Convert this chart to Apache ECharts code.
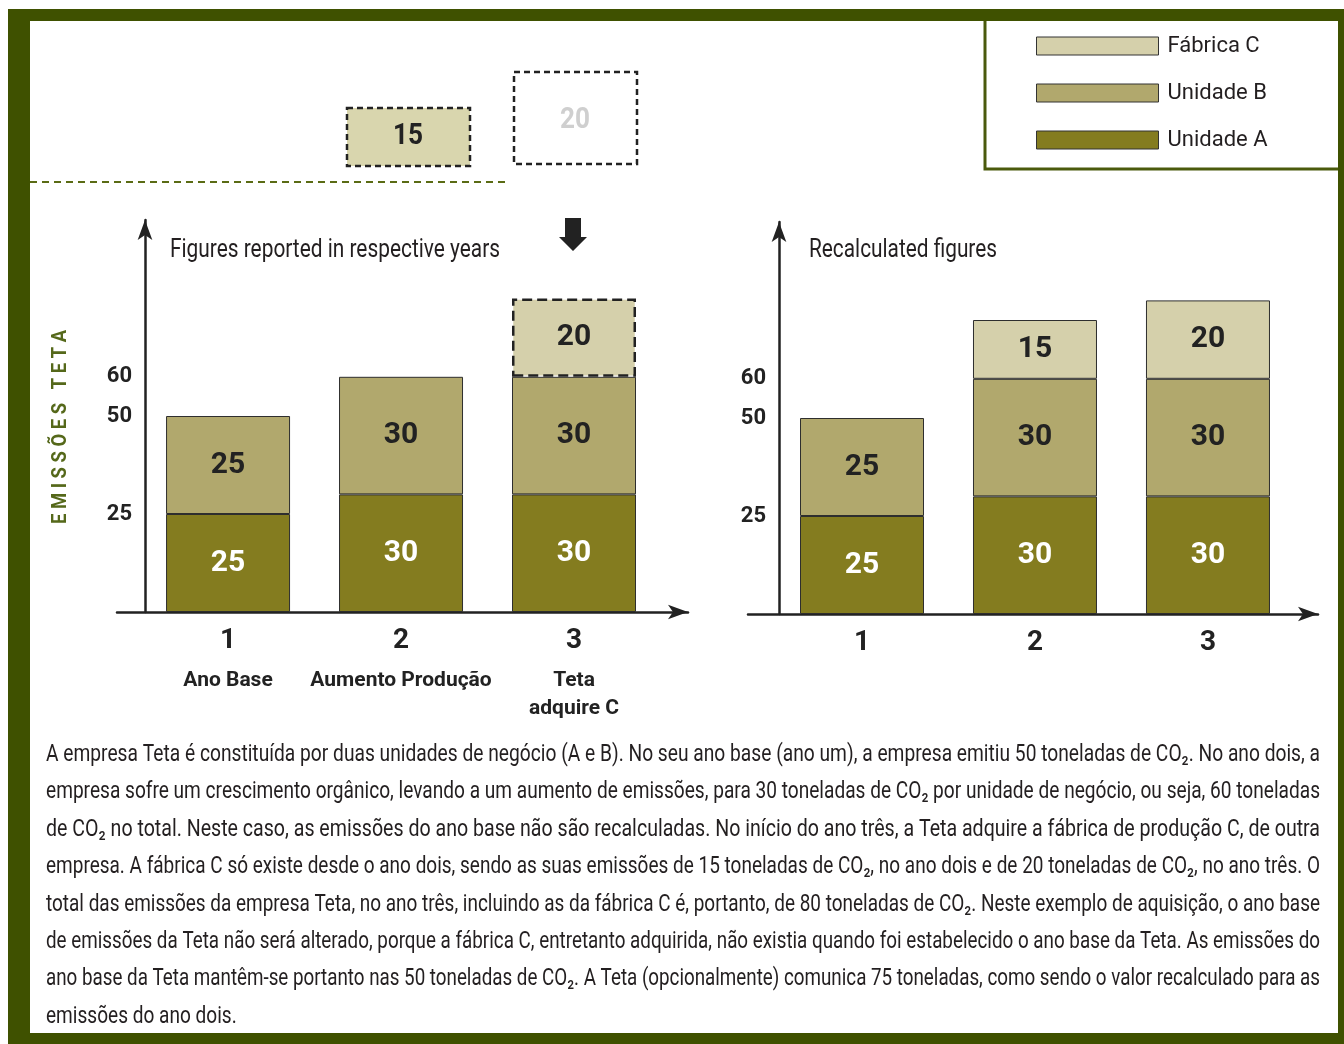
<!DOCTYPE html>
<html lang="pt">
<head>
<meta charset="UTF-8">
<title>Emissões Teta</title>
<script src="https://cdn.jsdelivr.net/npm/echarts@6/dist/echarts.min.js"></script>
<style>
  html, body { margin: 0; padding: 0; background: #fff; }
  #container { width: 1344px; height: 1044px; }
</style>
</head>
<body>
<div id="container"></div>
<script>
// ---- data ----
var years = [1, 2, 3];
var yearNames = ['Ano Base', 'Aumento Produção', 'Teta\nadquire C'];
var yTicks = [25, 50, 60];

// figures reported in respective years
var reportedA = [25, 30, 30];
var reportedB = [25, 30, 30];
var reportedC = ['-', '-', 20];

// recalculated figures
var recalcA = [25, 30, 30];
var recalcB = [25, 30, 30];
var recalcC = ['-', 15, 20];

var legendNames = ['Fábrica C', 'Unidade B', 'Unidade A'];

var paragraph = [
  'A empresa Teta é constituída por duas unidades de negócio (A e B). No seu ano base (ano um), a empresa emitiu 50 toneladas de CO₂. No ano dois, a',
  'empresa sofre um crescimento orgânico, levando a um aumento de emissões, para 30 toneladas de CO₂ por unidade de negócio, ou seja, 60 toneladas',
  'de CO₂ no total. Neste caso, as emissões do ano base não são recalculadas. No início do ano três, a Teta adquire a fábrica de produção C, de outra',
  'empresa. A fábrica C só existe desde o ano dois, sendo as suas emissões de 15 toneladas de CO₂, no ano dois e de 20 toneladas de CO₂, no ano três. O',
  'total das emissões da empresa Teta, no ano três, incluindo as da fábrica C é, portanto, de 80 toneladas de CO₂. Neste exemplo de aquisição, o ano base',
  'de emissões da Teta não será alterado, porque a fábrica C, entretanto adquirida, não existia quando foi estabelecido o ano base da Teta. As emissões do',
  'ano base da Teta mantêm-se portanto nas 50 toneladas de CO₂. A Teta (opcionalmente) comunica 75 toneladas, como sendo o valor recalculado para as',
  'emissões do ano dois.'
];

// ---- styles ----
var FONT = 'Roboto, "Liberation Sans", sans-serif';
var GREEN = '#3f5100';
var colA = '#847c1f', colB = '#b1a86d', colC = '#d5d0ab';

var dom = document.getElementById('container');
var myChart = echarts.init(dom);

var ctx = document.createElement('canvas').getContext('2d');
function textWidth(str, size, weight) {
  ctx.font = (weight || 'normal') + ' ' + size + 'px ' + FONT;
  return ctx.measureText(str).width;
}

// value first, year second -> stacking happens on the value column
function pairs(vals) {
  return years.map(function (x, i) { return [vals[i], x]; });
}

function bar(name, vals, idx, color, labelColor, dashed) {
  return {
    name: name,
    type: 'bar',
    xAxisIndex: idx,
    yAxisIndex: idx,
    stack: 'total' + idx,
    barWidth: 124,
    encode: { x: 1, y: 0 },
    data: pairs(vals),
    itemStyle: {
      color: color,
      borderColor: dashed ? '#222' : '#2e2e2e',
      borderWidth: dashed ? 2.5 : 1,
      borderType: dashed ? 'dashed' : 'solid'
    },
    label: {
      show: true,
      position: 'inside',
      color: labelColor,
      fontFamily: FONT,
      fontWeight: 'bold',
      fontSize: 30,
      formatter: function (p) { return p.value[0]; }
    }
  };
}

function xAxis(idx, min, max, withNames) {
  return {
    gridIndex: idx,
    type: 'value',
    min: min,
    max: max,
    axisLine: {
      show: true, onZero: false,
      symbol: ['none', 'arrow'], symbolSize: [11, 20],
      lineStyle: { color: '#222', width: 2.5 }
    },
    axisTick: { show: false },
    splitLine: { show: false },
    axisLabel: {
      customValues: years,
      margin: 3,
      formatter: function (v) {
        var i = years.indexOf(v);
        return withNames ? '{n|' + v + '}\n{t|' + yearNames[i] + '}' : '{n|' + v + '}';
      },
      rich: {
        n: { fontFamily: FONT, fontWeight: 'bold', fontSize: 28, color: '#222', lineHeight: 52 },
        t: { fontFamily: FONT, fontWeight: 'bold', fontSize: 21, color: '#222', lineHeight: 28 }
      }
    }
  };
}

function yAxis(idx, offset) {
  return {
    gridIndex: idx,
    type: 'value',
    min: 0,
    max: 100,
    offset: offset,
    axisLine: {
      show: true, onZero: false,
      symbol: ['none', 'arrow'], symbolSize: [11, 20],
      lineStyle: { color: '#222', width: 2.5 }
    },
    axisTick: { show: false },
    splitLine: { show: false },
    axisLabel: {
      customValues: yTicks,
      margin: 13,
      fontFamily: FONT,
      fontWeight: 'bold',
      fontSize: 22,
      color: '#222'
    }
  };
}

// text squeezed to a given width (the original uses a condensed face)
function fitText(str, x, y, size, target, extra, weight) {
  var s = target / textWidth(str, size, weight);
  var st = { text: str, fill: '#231f20', fontSize: size, fontWeight: weight || 'normal', fontFamily: FONT, verticalAlign: 'middle' };
  for (var k in extra) st[k] = extra[k];
  return { type: 'text', x: x, y: y, scaleX: s, style: st };
}

// justified paragraph: every line but the last is stretched to the column width
var paraSize = 24;
var scales = paragraph.map(function (line) { return 1274 / textWidth(line, paraSize); });
var avgScale = scales.slice(0, -1).reduce(function (a, b) { return a + b; }, 0) / (scales.length - 1);
var paraTexts = paragraph.map(function (line, i) {
  var s = i < paragraph.length - 1 ? scales[i] : avgScale;
  return {
    type: 'text', x: 46, y: 755 + i * 37.4, scaleX: s,
    style: { text: line, fill: '#231f20', fontSize: paraSize, fontFamily: FONT, verticalAlign: 'middle' }
  };
});

// vertical axis title, letter-spaced and squeezed to the original length
var axisTitle = fitText('E M I S S Õ E S   T E T A', 0, 0, 21, 194, { fill: '#55681a', align: 'center' }, 'bold');
axisTitle.x = 61;
axisTitle.y = 427;
axisTitle.rotation = Math.PI / 2;

var graphics = [
  // frame
  { type: 'rect', z: -10, shape: { x: 8, y: 9, width: 1336, height: 12 }, style: { fill: GREEN } },
  { type: 'rect', z: -10, shape: { x: 8, y: 9, width: 22, height: 1035 }, style: { fill: GREEN } },
  { type: 'rect', z: -10, shape: { x: 1338, y: 9, width: 6, height: 1035 }, style: { fill: GREEN } },
  { type: 'rect', z: -10, shape: { x: 8, y: 1033, width: 1336, height: 11 }, style: { fill: GREEN } },
  // legend box
  { type: 'polyline', shape: { points: [[985, 21], [985, 169], [1338, 169]] }, style: { stroke: '#4a5a0c', lineWidth: 3, fill: null } },
  // dashed separator
  { type: 'line', shape: { x1: 30, y1: 182, x2: 505, y2: 182 }, style: { stroke: '#5a6b14', lineWidth: 2, lineDash: [7, 5] } },
  // side boxes for plant C
  { type: 'rect', shape: { x: 347, y: 108, width: 123, height: 58 }, style: { fill: '#d9d6ae', stroke: '#222', lineWidth: 2.5, lineDash: [6, 4] } },
  fitText(String(recalcC[1]), 393, 136, 30, 30, { fill: '#222' }, 'bold'),
  { type: 'rect', shape: { x: 514, y: 72, width: 123, height: 92 }, style: { fill: '#fff', stroke: '#222', lineWidth: 2.5, lineDash: [6, 4] } },
  fitText(String(recalcC[2]), 560, 120, 30, 30, { fill: '#cfcfcf' }, 'bold'),
  // down arrow
  { type: 'polygon', shape: { points: [[565, 218], [581, 218], [581, 237], [587, 237], [573, 251], [559, 237], [565, 237]] }, style: { fill: '#222' } },
  // titles
  fitText('Figures reported in respective years', 170, 251, 25, 330),
  fitText('Recalculated figures', 809, 251, 25, 188),
  axisTitle
].concat(paraTexts);

var option = {
  animation: false,
  backgroundColor: '#fff',
  legend: {
    data: legendNames,
    orient: 'vertical',
    left: 1031,
    top: 30,
    itemWidth: 122,
    itemHeight: 18,
    itemGap: 25,
    icon: 'rect',
    selectedMode: false,
    itemStyle: { borderColor: '#333', borderWidth: 1, borderType: 'solid' },
    textStyle: { fontFamily: FONT, fontSize: 22, color: '#231f20', padding: [0, 0, 0, 4] }
  },
  grid: [
    { left: 117, right: 656, top: 220, bottom: 432, containLabel: false, outerBoundsMode: 'none' },
    { left: 748, right: 26, top: 222, bottom: 430, containLabel: false, outerBoundsMode: 'none' }
  ],
  xAxis: [xAxis(0, 0.358, 3.659, true), xAxis(1, 0.341, 3.636, false)],
  yAxis: [yAxis(0, -28), yAxis(1, -31)],
  series: [
    bar('Unidade A', recalcA, 1, colA, '#fff', false),
    bar('Unidade B', recalcB, 1, colB, '#222', false),
    bar('Fábrica C', recalcC, 1, colC, '#222', false),
    bar('Unidade A', reportedA, 0, colA, '#fff', false),
    bar('Unidade B', reportedB, 0, colB, '#222', false),
    bar('Fábrica C', reportedC, 0, colC, '#222', true)
  ],
  graphic: graphics
};

myChart.setOption(option);
</script>
</body>
</html>
